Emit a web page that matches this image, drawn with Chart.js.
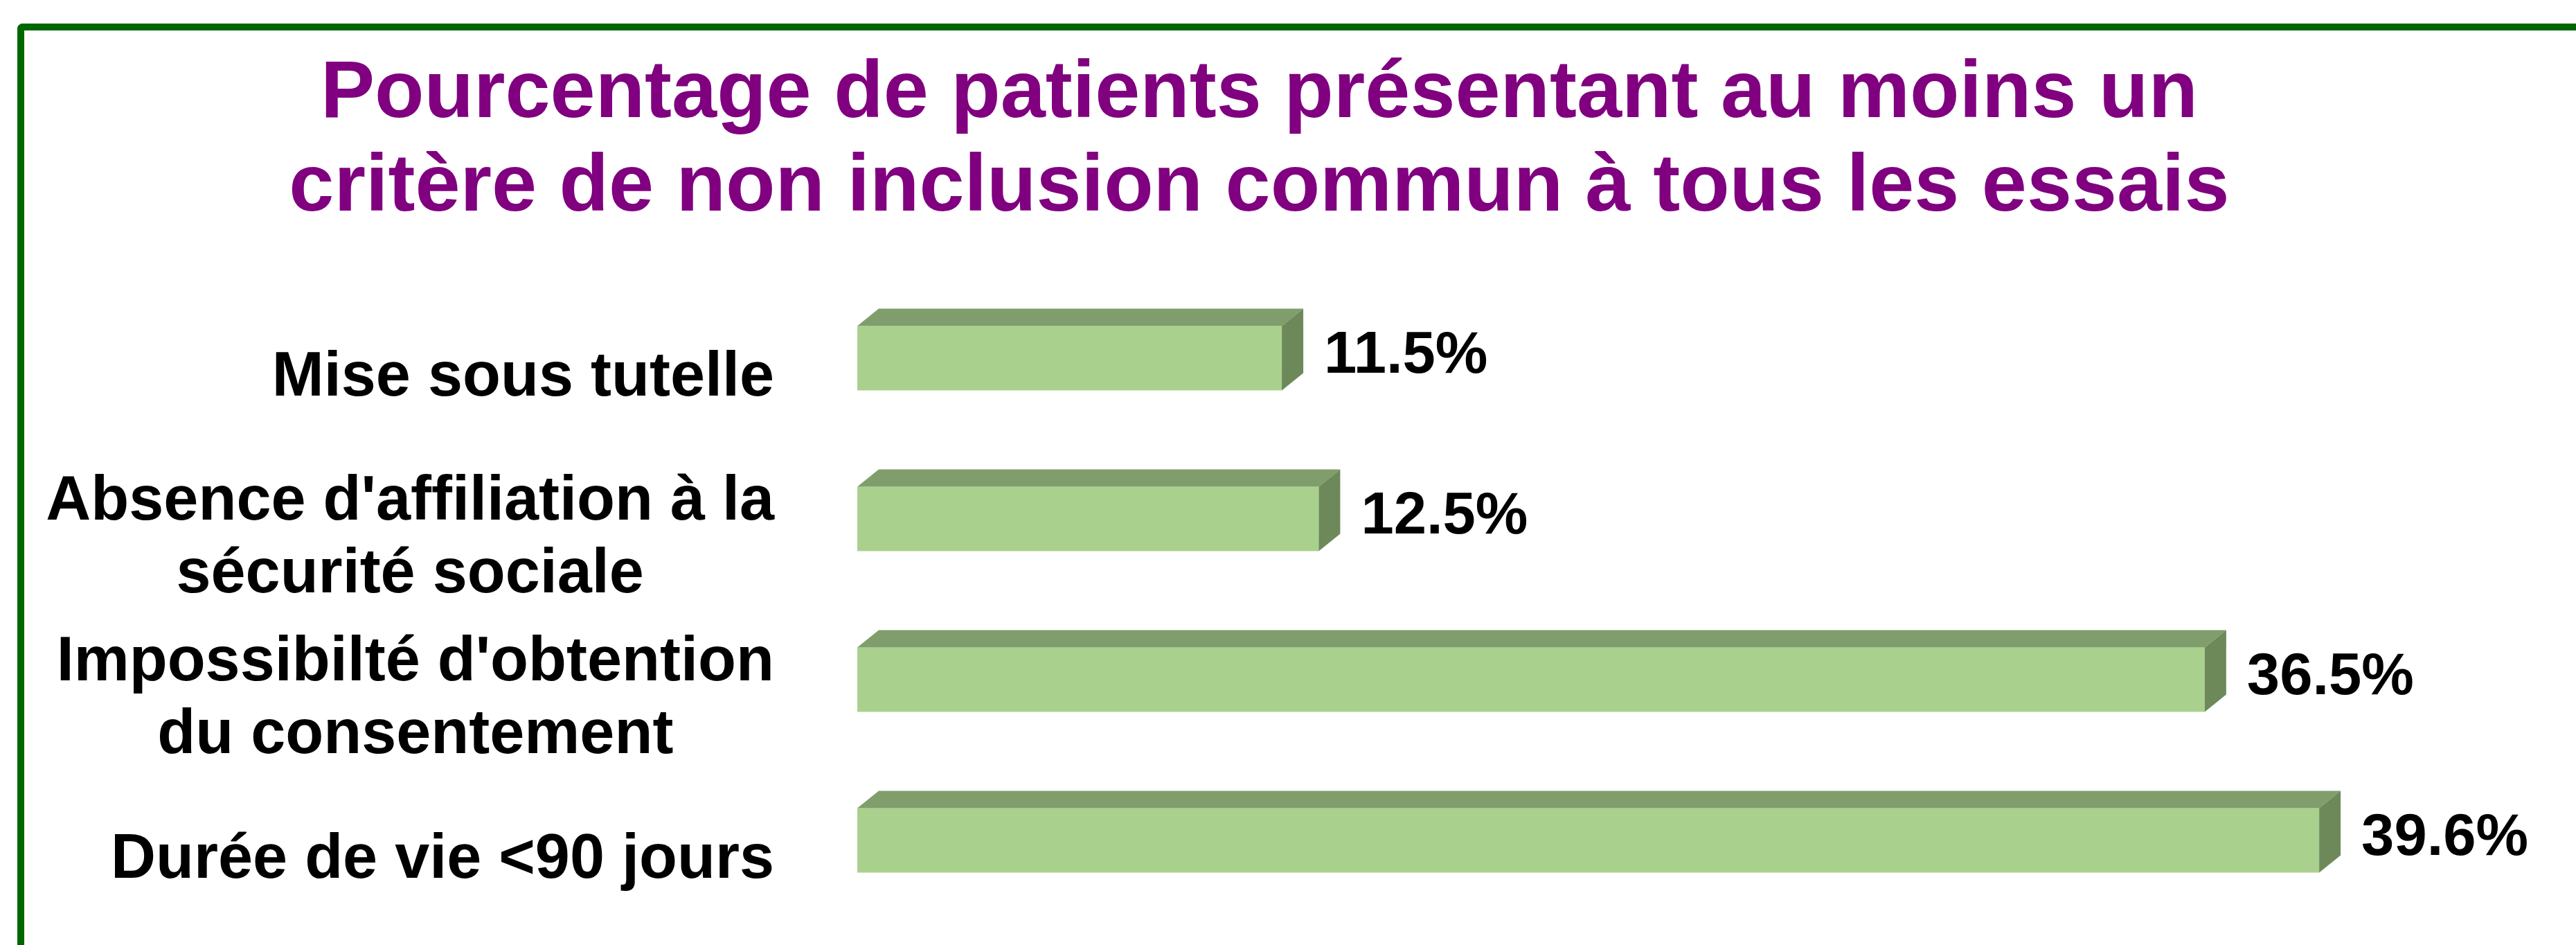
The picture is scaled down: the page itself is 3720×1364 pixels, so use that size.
<!DOCTYPE html>
<html lang="fr">
<head>
<meta charset="UTF-8">
<title>Critères de non inclusion</title>
<script src="https://cdn.jsdelivr.net/npm/chart.js"></script>
<style>
  body { margin: 0; background: #fff; }
  #cadre {
    position: absolute; left: 25px; top: 34px;
    width: 3800px; height: 1400px;
    border-left: 10px solid #006600; border-top: 10px solid #006600;
    border-top-left-radius: 8px;
  }
  #zone { position: absolute; left: 0; top: 0; width: 3720px; height: 1364px; }
</style>
</head>
<body>
<div id="cadre"></div>
<div id="zone"><canvas id="grafico"></canvas></div>

<script>
// donnees
var criteres = [
  ['Mise sous tutelle'],
  ["Absence d'affiliation à la", 'sécurité sociale'],
  ["Impossibilté d'obtention", 'du consentement'],
  ['Durée de vie <90 jours']
]
var pourcentages = [11.5, 12.5, 36.5, 39.6]
var titre = ['Pourcentage de patients présentant au moins un', 'critère de non inclusion commun à tous les essais']

var police = '"Liberation Sans", Arial, sans-serif'
var profX = 31, profY = 25

// faces du dessus et de cote pour l'effet 3D
var effet3d = {
  id: 'effet3d',
  afterDatasetsDraw: function (chart) {
    var ctx = chart.ctx
    chart.getDatasetMeta(0).data.forEach(function (bar) {
      var x0 = bar.base, x1 = bar.x
      var yh = bar.y - bar.height / 2, yb = bar.y + bar.height / 2
      ctx.save()
      ctx.fillStyle = '#7f9e6b'
      ctx.beginPath()
      ctx.moveTo(x0, yh); ctx.lineTo(x0 + profX, yh - profY)
      ctx.lineTo(x1 + profX, yh - profY); ctx.lineTo(x1, yh)
      ctx.closePath(); ctx.fill()
      ctx.fillStyle = '#6d895a'
      ctx.beginPath()
      ctx.moveTo(x1, yh); ctx.lineTo(x1 + profX, yh - profY)
      ctx.lineTo(x1 + profX, yb - profY); ctx.lineTo(x1, yb)
      ctx.closePath(); ctx.fill()
      ctx.restore()
    })
  }
}

// valeurs a droite des barres
var valeurs = {
  id: 'valeurs',
  afterDatasetsDraw: function (chart) {
    var ctx = chart.ctx
    ctx.save()
    ctx.font = 'bold 85px ' + police
    ctx.fillStyle = '#000'
    ctx.textAlign = 'left'
    ctx.textBaseline = 'middle'
    chart.getDatasetMeta(0).data.forEach(function (bar, i) {
      ctx.fillText(pourcentages[i].toFixed(1) + '%', bar.x + profX + 30, bar.y - profY / 2 + 10)
    })
    ctx.restore()
  }
}

// libelles des categories (lignes centrees, bloc aligne a droite)
var libelles = {
  id: 'libelles',
  afterDraw: function (chart) {
    var ctx = chart.ctx
    var y = chart.scales.y
    var droite = chart.chartArea.left - 120
    ctx.save()
    ctx.font = 'bold 90px ' + police
    ctx.fillStyle = '#000'
    ctx.textAlign = 'center'
    ctx.textBaseline = 'middle'
    criteres.forEach(function (lignes, i) {
      var larg = Math.max.apply(null, lignes.map(function (l) { return ctx.measureText(l).width }))
      var cx = droite - larg / 2
      var cy = y.getPixelForValue(i) + 29
      var h = 105
      lignes.forEach(function (l, k) {
        ctx.fillText(l, cx, cy + (k - (lignes.length - 1) / 2) * h)
      })
    })
    ctx.restore()
  }
}

new Chart(document.getElementById('grafico'), {
  type: 'bar',
  data: {
    labels: criteres,
    datasets: [{
      data: pourcentages,
      backgroundColor: '#aad08e',
      borderWidth: 0,
      categoryPercentage: 1,
      barPercentage: 0.4
    }]
  },
  options: {
    indexAxis: 'y',
    responsive: true,
    maintainAspectRatio: false,
    animation: false,
    layout: { padding: { left: 0, right: 83, top: 0, bottom: 35 } },
    plugins: {
      legend: { display: false },
      tooltip: { enabled: false },
      title: {
        display: true,
        text: titre,
        color: '#800080',
        font: { family: police, size: 117, weight: 'bold', lineHeight: 135 / 117 },
        padding: { top: 69, bottom: 62 }
      }
    },
    scales: {
      x: { display: false, min: 0, max: 45 },
      y: {
        display: true,
        ticks: { display: false },
        grid: { display: false },
        border: { display: false },
        afterFit: function (s) { s.width = 1238 }
      }
    }
  },
  plugins: [effet3d, valeurs, libelles]
})
</script>
</body>
</html>
